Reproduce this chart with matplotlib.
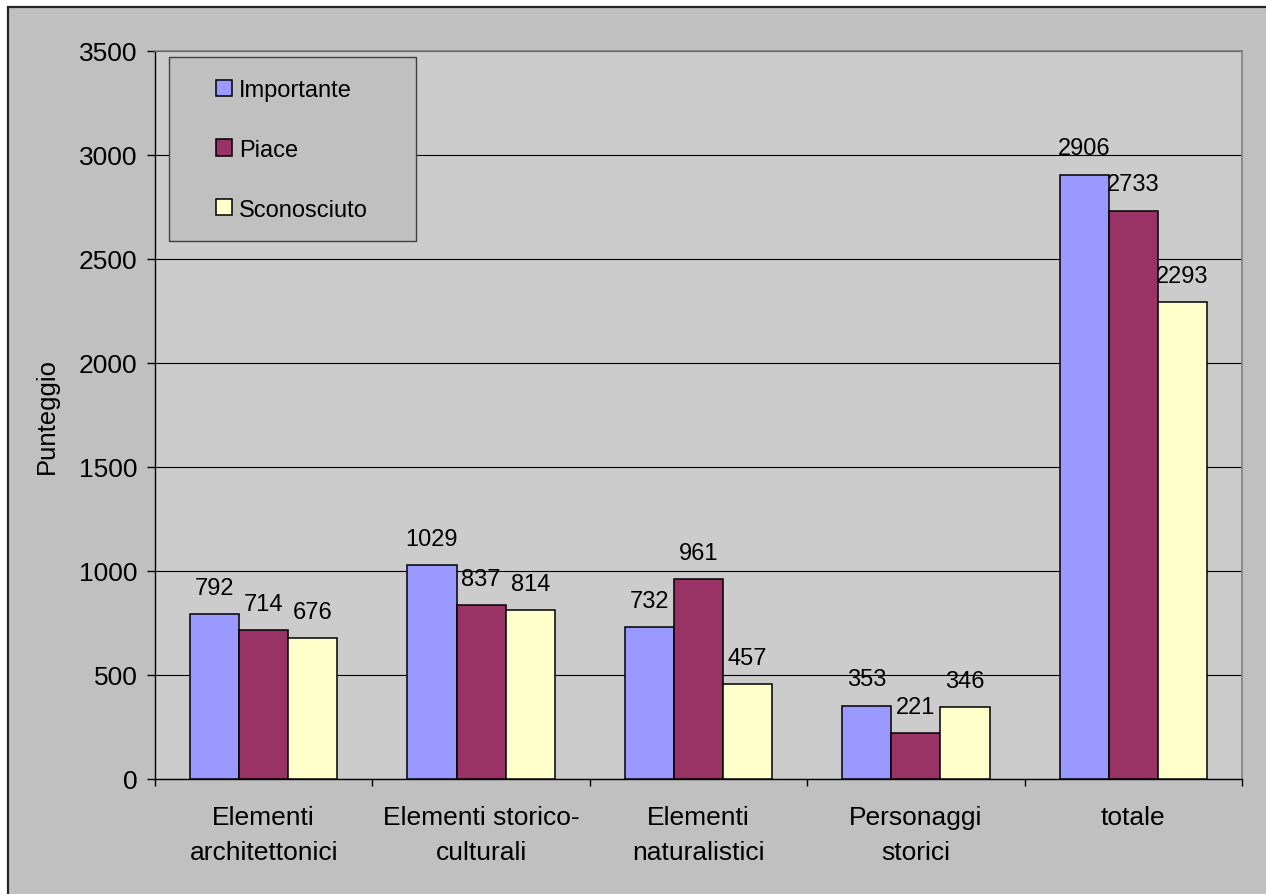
import matplotlib.pyplot as plt
import matplotlib.patches as mpatches
import numpy as np

plt.rcParams['font.family'] = ['Liberation Sans', 'DejaVu Sans']

categories = ["Elementi\narchitettonici", "Elementi storico-\nculturali",
              "Elementi\nnaturalistici", "Personaggi\nstorici", "totale"]
importante = [792, 1029, 732, 353, 2906]
piace = [714, 837, 961, 221, 2733]
sconosciuto = [676, 814, 457, 346, 2293]
series_names = ["Importante", "Piace", "Sconosciuto"]
series_colors = ["#9999FF", "#993366", "#FFFFCC"]
y_ticks = [0, 500, 1000, 1500, 2000, 2500, 3000, 3500]

W, H = 1266, 895
fig = plt.figure(figsize=(W / 100, H / 100), dpi=100, facecolor="white")

# grey chart area with dark border on top/left
fig.patches.append(mpatches.Rectangle(
    (8 / W, -0.05), 1.1, 1 - 8 / H + 0.05, transform=fig.transFigure,
    facecolor="#C0C0C0", edgecolor="#262626", linewidth=1.6, zorder=-10))

ax = fig.add_axes([155 / W, 1 - 780 / H, (1242 - 155) / W, (780 - 52) / H])
ax.set_facecolor("#CCCCCC")

x = np.arange(len(categories))
bw = 0.226
for i, (vals, name, col) in enumerate(zip([importante, piace, sconosciuto],
                                          series_names, series_colors)):
    bars = ax.bar(x + (i - 1) * bw, vals, bw, color=col, edgecolor="black",
                  linewidth=1.1, label=name, zorder=3)
    for b, v in zip(bars, vals):
        ax.annotate(str(v), (b.get_x() + b.get_width() / 2, v),
                    xytext=(0, 14.5), textcoords="offset points",
                    ha="center", va="baseline", fontsize=17, zorder=4)

ax.set_xlim(-0.5, len(categories) - 0.5)
ax.set_ylim(0, 3500)
ax.set_yticks(y_ticks)
ax.yaxis.grid(True, color="black", linewidth=0.8)
ax.set_axisbelow(True)

# ticks on category boundaries, labels at centres
ax.set_xticks(np.arange(len(categories) + 1) - 0.5)
ax.set_xticklabels([])
ax.set_xticks(x, minor=True)
ax.set_xticklabels(categories, minor=True, fontsize=19, linespacing=1.55)
ax.tick_params(axis="x", which="major", direction="out", length=5, width=1)
ax.tick_params(axis="x", which="minor", length=0, pad=19)
ax.tick_params(axis="y", direction="out", length=5.5, width=1, pad=7,
               labelsize=19)

for s in ["top", "right"]:
    ax.spines[s].set_color("#808080")
    ax.spines[s].set_linewidth(1.2)
for s in ["left", "bottom"]:
    ax.spines[s].set_color("black")
    ax.spines[s].set_linewidth(1)

ax.set_ylabel("Punteggio", fontsize=18.5)
ax.yaxis.set_label_coords(-0.088, 0.5)

# legend box
ax.add_patch(mpatches.Rectangle(
    (14 / 1087, (780 - 242) / 728), (416 - 169) / 1087, (242 - 58) / 728,
    transform=ax.transAxes, facecolor="#C0C0C0", edgecolor="#404040",
    linewidth=1, zorder=5))
leg = ax.legend(loc="upper left", bbox_to_anchor=((216 - 155) / 1087, (780 - 80) / 728),
                frameon=False, fontsize=17, borderpad=0, borderaxespad=0,
                labelspacing=1.6, handlelength=0.68, handleheight=0.68,
                handletextpad=0.3)
leg.set_zorder(6)

fig.savefig("out.png", dpi=100)
